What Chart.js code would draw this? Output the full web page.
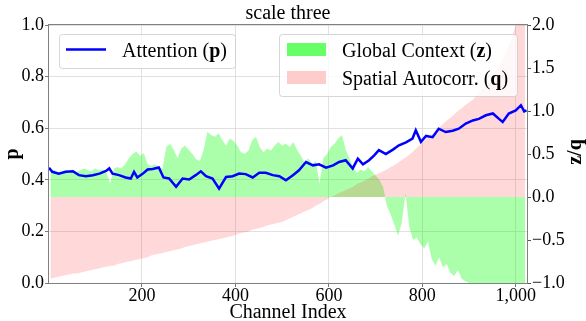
<!DOCTYPE html>
<html>
<head>
<meta charset="utf-8">
<script src="https://cdn.jsdelivr.net/npm/chart.js@4.4.1/dist/chart.umd.min.js"></script>
<style>
  html, body { margin: 0; padding: 0; background: #fff; }
  #wrap { width: 586px; height: 321px; }
</style>
</head>
<body>
<div id="wrap"><canvas id="chart" width="586" height="321"></canvas></div>
<script>
// scale three: attention p vs global context z and spatial autocorrelation q

// bar bins (channel centres, 8 channels per bin)
const channels = [
  4, 12, 20, 28, 36, 44, 52, 60, 68, 76, 84, 92, 100, 108, 116, 124,
  132, 140, 148, 156, 164, 172, 180, 188, 196, 204, 212, 220, 228, 236, 244, 252,
  260, 268, 276, 284, 292, 300, 308, 316, 324, 332, 340, 348, 356, 364, 372, 380,
  388, 396, 404, 412, 420, 428, 436, 444, 452, 460, 468, 476, 484, 492, 500, 508,
  516, 524, 532, 540, 548, 556, 564, 572, 580, 588, 596, 604, 612, 620, 628, 636,
  644, 652, 660, 668, 676, 684, 692, 700, 708, 716, 724, 732, 740, 748, 756, 764,
  772, 780, 788, 796, 804, 812, 820, 828, 836, 844, 852, 860, 868, 876, 884, 892,
  900, 908, 916, 924, 932, 940, 948, 956, 964, 972, 980, 988, 996, 1004, 1012, 1020
];

const globalContext = [
  0.30, 0.31, 0.29, 0.30, 0.31, 0.30, 0.32, 0.29, 0.31, 0.33, 0.31, 0.30, 0.33, 0.31, 0.32, 0.28,
  0.16, 0.33, 0.35, 0.33, 0.38, 0.45, 0.50, 0.53, 0.48, 0.51, 0.38, 0.36, 0.38, 0.35, 0.33, 0.58,
  0.62, 0.55, 0.45, 0.56, 0.60, 0.55, 0.50, 0.44, 0.42, 0.55, 0.76, 0.72, 0.70, 0.74, 0.66, 0.60,
  0.68, 0.65, 0.60, 0.52, 0.50, 0.54, 0.66, 0.70, 0.58, 0.52, 0.56, 0.54, 0.60, 0.64, 0.60, 0.62,
  0.58, 0.64, 0.55, 0.48, 0.40, 0.45, 0.38, 0.42, 0.15, 0.45, 0.50, 0.58, 0.62, 0.68, 0.72, 0.55,
  0.45, 0.35, 0.28, 0.32, 0.30, 0.35, 0.30, 0.25, 0.20, 0.12, -0.10, -0.20, -0.32, -0.45, -0.30, 0.05,
  -0.35, -0.50, -0.47, -0.55, -0.60, -0.52, -0.72, -0.80, -0.70, -0.82, -0.78, -0.88, -0.92, -0.85, -0.95, -0.98,
  -1.00, -1.05, -1.10, -1.15, -1.20, -1.12, -1.25, -1.30, -1.18, -1.22, -1.35, -1.28, -1.30, -1.40, -1.33, -1.38
];

const spatialAutocorr = [
  -0.95, -0.94, -0.93, -0.92, -0.91, -0.90, -0.89, -0.89, -0.88, -0.87, -0.86, -0.85, -0.84, -0.83, -0.82, -0.81,
  -0.80, -0.80, -0.78, -0.77, -0.76, -0.75, -0.74, -0.73, -0.72, -0.71, -0.70, -0.68, -0.67, -0.66, -0.65, -0.64,
  -0.63, -0.62, -0.61, -0.60, -0.58, -0.57, -0.56, -0.55, -0.54, -0.53, -0.52, -0.51, -0.50, -0.49, -0.48, -0.47,
  -0.46, -0.45, -0.43, -0.42, -0.41, -0.40, -0.38, -0.37, -0.36, -0.35, -0.33, -0.32, -0.31, -0.30, -0.29, -0.27,
  -0.25, -0.23, -0.21, -0.19, -0.17, -0.15, -0.13, -0.10, -0.08, -0.05, -0.03, 0.00, 0.02, 0.04, 0.06, 0.08,
  0.10, 0.12, 0.15, 0.17, 0.19, 0.21, 0.24, 0.26, 0.28, 0.30, 0.32, 0.35, 0.37, 0.40, 0.43, 0.46,
  0.49, 0.53, 0.57, 0.61, 0.65, 0.69, 0.73, 0.77, 0.81, 0.85, 0.89, 0.92, 0.96, 1.00, 1.03, 1.07,
  1.10, 1.13, 1.18, 1.23, 1.28, 1.33, 1.39, 1.46, 1.53, 1.61, 1.70, 1.80, 1.93, 2.08, 2.30, 2.70
];

// attention line, read at irregular channels
const lineChannels = [
  1, 8, 22, 37, 52, 65, 80, 95, 109, 123, 130, 137, 151, 165, 176, 183, 190, 202, 212, 223,
  236, 246, 258, 273, 287, 301, 315, 326, 337, 351, 365, 380, 394, 408, 422, 437, 451, 465, 480, 494,
  508, 523, 536, 551, 566, 579, 594, 609, 622, 636, 651, 662, 673, 686, 697, 707, 722, 737, 750, 765,
  779, 786, 797, 808, 822, 835, 850, 865, 878, 893, 908, 921, 936, 951, 964, 972, 985, 1000, 1011, 1018, 1023
];
const attention = [
  0.447, 0.431, 0.424, 0.431, 0.433, 0.418, 0.414, 0.418, 0.424, 0.434, 0.444, 0.424, 0.418, 0.409, 0.405, 0.431, 0.409, 0.424, 0.440, 0.442,
  0.448, 0.409, 0.405, 0.373, 0.405, 0.401, 0.418, 0.433, 0.414, 0.405, 0.366, 0.411, 0.414, 0.424, 0.422, 0.409, 0.427, 0.427, 0.418, 0.414,
  0.398, 0.418, 0.437, 0.469, 0.456, 0.460, 0.447, 0.456, 0.469, 0.476, 0.444, 0.482, 0.460, 0.476, 0.495, 0.515, 0.500, 0.517, 0.534, 0.545,
  0.560, 0.592, 0.547, 0.570, 0.565, 0.598, 0.585, 0.590, 0.598, 0.618, 0.630, 0.636, 0.650, 0.657, 0.636, 0.624, 0.657, 0.669, 0.689, 0.665, 0.669
];

const xTicks = [200, 400, 600, 800, 1000];
const pTicks = [0, 0.2, 0.4, 0.6, 0.8, 1.0];
const zqTicks = [-1, -0.5, 0, 0.5, 1.0, 1.5, 2.0];

const seriesNames = ['Attention', 'Global Context', 'Spatial Autocorr.'];
const seriesSymbols = ['p', 'z', 'q'];

const SERIF = '"Liberation Serif", "Times New Roman", serif';
const tickFont = { family: SERIF, size: 18 };
const gridColor = '#d9d9d9';

function fixTicks(values) {
  return scale => { scale.ticks = values.map(v => ({ value: v })); };
}

// draw text made of normal and bold pieces
function richText(ctx, parts, x, y, size) {
  let cx = x;
  parts.forEach(p => {
    ctx.font = (p.b ? 'bold ' : '') + size + 'px ' + SERIF;
    ctx.fillText(p.t, cx, y);
    cx += ctx.measureText(p.t).width;
  });
}

function legendBox(ctx, x, y, w, h) {
  ctx.save();
  ctx.beginPath();
  ctx.roundRect(x, y, w, h, 3);
  ctx.fillStyle = 'rgba(255,255,255,0.8)';
  ctx.fill();
  ctx.strokeStyle = 'rgba(204,204,204,0.8)';
  ctx.lineWidth = 1;
  ctx.stroke();
  ctx.restore();
}

// bins drawn as an area down to zero
function binArea(label, values, color, order) {
  return {
    type: 'line',
    label: label,
    data: channels.map((c, i) => ({ x: c, y: values[i] })),
    yAxisID: 'y1',
    fill: 'origin',
    backgroundColor: color,
    borderWidth: 0,
    borderColor: 'transparent',
    pointRadius: 0,
    tension: 0,
    order: order
  };
}

const decorations = {
  id: 'decorations',
  afterDraw(chart) {
    const ctx = chart.ctx;
    const a = chart.chartArea;
    ctx.save();

    // frame
    ctx.strokeStyle = '#808080';
    ctx.lineWidth = 1;
    ctx.strokeRect(a.left - 0.5, a.top - 0.5, a.right - a.left + 1, a.bottom - a.top + 1);

    ctx.fillStyle = '#000';
    ctx.textBaseline = 'alphabetic';

    // title
    ctx.textAlign = 'center';
    ctx.font = '20px ' + SERIF;
    ctx.fillText('scale three', (a.left + a.right) / 2, 19);

    // x title
    ctx.fillText('Channel Index', (a.left + a.right) / 2, 318);

    // y titles (both read bottom to top)
    const midY = (a.top + a.bottom) / 2;
    ctx.font = 'bold 20px ' + SERIF;
    ctx.save();
    ctx.translate(18, midY);
    ctx.rotate(-Math.PI / 2);
    ctx.fillText(seriesSymbols[0], 0, 0);
    ctx.restore();
    ctx.save();
    ctx.translate(581, midY - 2);
    ctx.rotate(-Math.PI / 2);
    ctx.fillText(seriesSymbols[1] + '/' + seriesSymbols[2], 0, 0);
    ctx.restore();

    // legends
    ctx.textAlign = 'left';
    legendBox(ctx, 59.5, 34.5, 176, 34);
    ctx.strokeStyle = '#0000ff';
    ctx.lineWidth = 2.5;
    ctx.beginPath();
    ctx.moveTo(66, 49.5);
    ctx.lineTo(106, 49.5);
    ctx.stroke();
    richText(ctx, [{ t: seriesNames[0] + ' (' }, { t: seriesSymbols[0], b: true }, { t: ')' }], 122, 57, 20);

    legendBox(ctx, 279.5, 34.5, 238, 62);
    ctx.fillStyle = '#66ff66';
    ctx.fillRect(287, 43, 39, 13);
    ctx.fillStyle = '#ffcccc';
    ctx.fillRect(287, 71, 39, 13);
    ctx.fillStyle = '#000';
    richText(ctx, [{ t: seriesNames[1] + ' (' }, { t: seriesSymbols[1], b: true }, { t: ')' }], 342, 57, 20);
    richText(ctx, [{ t: seriesNames[2] + ' (' }, { t: seriesSymbols[2], b: true }, { t: ')' }], 342, 85, 20);

    ctx.restore();
  }
};

new Chart(document.getElementById('chart'), {
  type: 'line',
  data: {
    datasets: [
      {
        label: seriesNames[0],
        data: lineChannels.map((c, i) => ({ x: c, y: attention[i] })),
        yAxisID: 'y',
        borderColor: '#0000ff',
        borderWidth: 2.5,
        pointRadius: 0,
        tension: 0,
        fill: false,
        order: 0
      },
      binArea(seriesNames[2], spatialAutocorr, 'rgba(255,0,0,0.15)', 1),
      binArea(seriesNames[1], globalContext, 'rgba(0,255,0,0.33)', 2)
    ]
  },
  options: {
    responsive: false,
    animation: false,
    events: [],
    layout: { padding: { top: 25, left: 0, right: 0, bottom: 0 } },
    plugins: {
      legend: { display: false },
      title: { display: false },
      tooltip: { enabled: false }
    },
    scales: {
      x: {
        type: 'linear',
        min: 1,
        max: 1024,
        afterBuildTicks: fixTicks(xTicks),
        afterFit: s => { s.height = 38; },
        grid: { color: gridColor, lineWidth: 0.8, tickLength: 4, tickColor: '#555' },
        border: { display: false },
        ticks: { font: tickFont, color: '#000', padding: -2, maxRotation: 0, autoSkip: false }
      },
      y: {
        position: 'left',
        min: 0,
        max: 1,
        afterBuildTicks: fixTicks(pTicks),
        afterFit: s => { s.width = 49; },
        grid: { color: gridColor, lineWidth: 0.8, tickLength: 4, tickColor: '#555' },
        border: { display: false },
        ticks: { font: tickFont, color: '#000', padding: 1, callback: v => v.toFixed(1) }
      },
      y1: {
        position: 'right',
        min: -1,
        max: 2,
        afterBuildTicks: fixTicks(zqTicks),
        afterFit: s => { s.width = 59; },
        grid: { drawOnChartArea: false, tickLength: 4, tickColor: '#555' },
        border: { display: false },
        ticks: { font: tickFont, color: '#000', padding: 1, callback: v => v.toFixed(1).replace('-', '\u2212') }
      }
    }
  },
  plugins: [decorations]
});
</script>
</body>
</html>
